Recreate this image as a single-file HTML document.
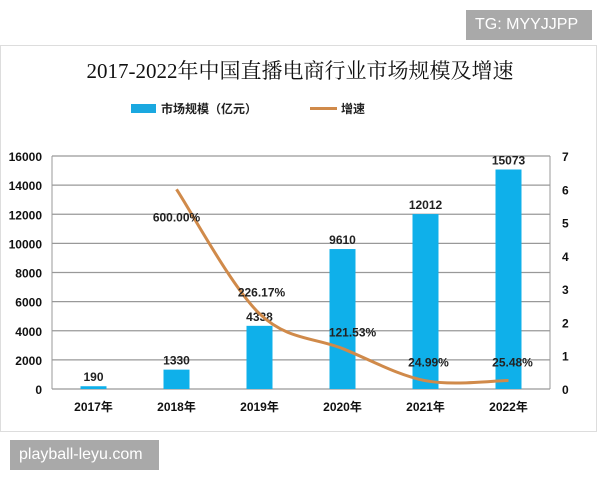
<!DOCTYPE html>
<html><head><meta charset="utf-8">
<style>
body{margin:0;width:600px;height:480px;background:#fff;overflow:hidden;font-family:"Liberation Sans","Noto Sans CJK SC",sans-serif;}
.wm{position:absolute;background:#a9a9a9;color:#fff;font-size:16px;line-height:30px;padding:0 9px;}
</style></head><body>
<div class="wm" style="left:466px;top:10px;width:108px;">TG: MYYJJPP</div>
<div style="position:absolute;left:0;top:45px;width:597px;height:387px;border:1px solid #ddd;box-sizing:border-box;"></div>
<svg id="c" width="600" height="480" style="position:absolute;left:0;top:0"></svg>
<div class="wm" style="left:10px;top:440px;width:131px;">playball-leyu.com</div>
<script>
const categories=["2017年","2018年","2019年","2020年","2021年","2022年"];
const marketSize=[190,1330,4338,9610,12012,15073];
const growth=[null,6.0,2.2617,1.2153,0.2499,0.2548];
const growthLabels=["","600.00%","226.17%","121.53%","24.99%","25.48%"];
const leftTicks=[0,2000,4000,6000,8000,10000,12000,14000,16000];
const rightTicks=[0,1,2,3,4,5,6,7];
const NS="http://www.w3.org/2000/svg";
const svg=document.getElementById('c');
const L=52,R=550,T=156,B=389;
const band=(R-L)/categories.length;
const xc=i=>L+band*(i+0.5);
const yL=v=>B-(v/16000)*(B-T);
const yR=v=>B-(v/7)*(B-T);
const labelDx=[0,0,2,10,3,4];
const labelDy=[0,32,-17,-12,-14,-14];
function mk(tag,attrs,txt){const e=document.createElementNS(NS,tag);for(const k in attrs)e.setAttribute(k,attrs[k]);if(txt!==undefined)e.textContent=txt;svg.appendChild(e);return e;}
let t=mk('text',{x:300,y:78,'text-anchor':'middle','font-size':21,'font-family':'"Liberation Serif","Noto Serif CJK SC",serif',fill:'#111'},'2017-2022年中国直播电商行业市场规模及增速');


let g=mk('rect',{x:131,y:104,width:25,height:9,fill:'#1aa8e0'});


t=mk('text',{x:161,y:113,'font-size':12,'font-weight':'bold',fill:'#222'},'市场规模（亿元）');


g=mk('line',{x1:310,y1:108.5,x2:337,y2:108.5,stroke:'#d08a4a','stroke-width':3});


t=mk('text',{x:341,y:113,'font-size':12,'font-weight':'bold',fill:'#222'},'增速');


leftTicks.forEach(v=>{
 const y=yL(v);
 const l=mk('line',{x1:L,y1:y,x2:R,y2:y,stroke:'#999','stroke-width':1.2});
 
 
 const tx=mk('text',{x:42,y:y+5,'text-anchor':'end','font-size':12,'font-weight':'bold',fill:'#111'},String(v));
 
 
});
rightTicks.forEach(v=>{
 const tx=mk('text',{x:562,y:yR(v)+5,'font-size':12,'font-weight':'bold',fill:'#111'},String(v));
 
 
});
let ax=mk('line',{x1:L,y1:T,x2:L,y2:B,stroke:'#999'});
ax=mk('line',{x1:R,y1:T,x2:R,y2:B,stroke:'#999'});
categories.forEach((c,i)=>{
 const x=xc(i),v=marketSize[i];
 const r=mk('rect',{x:x-13,y:yL(v),width:26,height:B-yL(v),fill:'#0fb0ea'});
 
 
 const lb=mk('text',{x:x,y:yL(v)-5,'text-anchor':'middle','font-size':12,'font-weight':'bold',fill:'#222'},String(v));
 
 
 const cl=mk('text',{x:x,y:411,'text-anchor':'middle','font-size':12,'font-weight':'bold',fill:'#111'},c);
 
 
});
const pts=[];growth.forEach((v,i)=>{if(v!==null)pts.push([xc(i),yR(v),i]);});
let d='M'+pts[0][0]+','+pts[0][1];
for(let k=0;k<pts.length-1;k++){
 const p0=pts[Math.max(0,k-1)],p1=pts[k],p2=pts[k+1],p3=pts[Math.min(pts.length-1,k+2)];
 const c1x=p1[0]+(p2[0]-p0[0])/6,c1y=p1[1]+(p2[1]-p0[1])/6,c2x=p2[0]-(p3[0]-p1[0])/6,c2y=p2[1]-(p3[1]-p1[1])/6;
 d+=` C${c1x},${c1y} ${c2x},${c2y} ${p2[0]},${p2[1]}`;
}
const pl=mk('path',{d:d,fill:'none',stroke:'#d08a4a','stroke-width':3});


pts.forEach(p=>{
 const i=p[2];
 const lb=mk('text',{x:p[0]+labelDx[i],y:p[1]+labelDy[i],'text-anchor':'middle','font-size':12,'font-weight':'bold',fill:'#222'},growthLabels[i]);
 
 
});
</script>
</body></html>
